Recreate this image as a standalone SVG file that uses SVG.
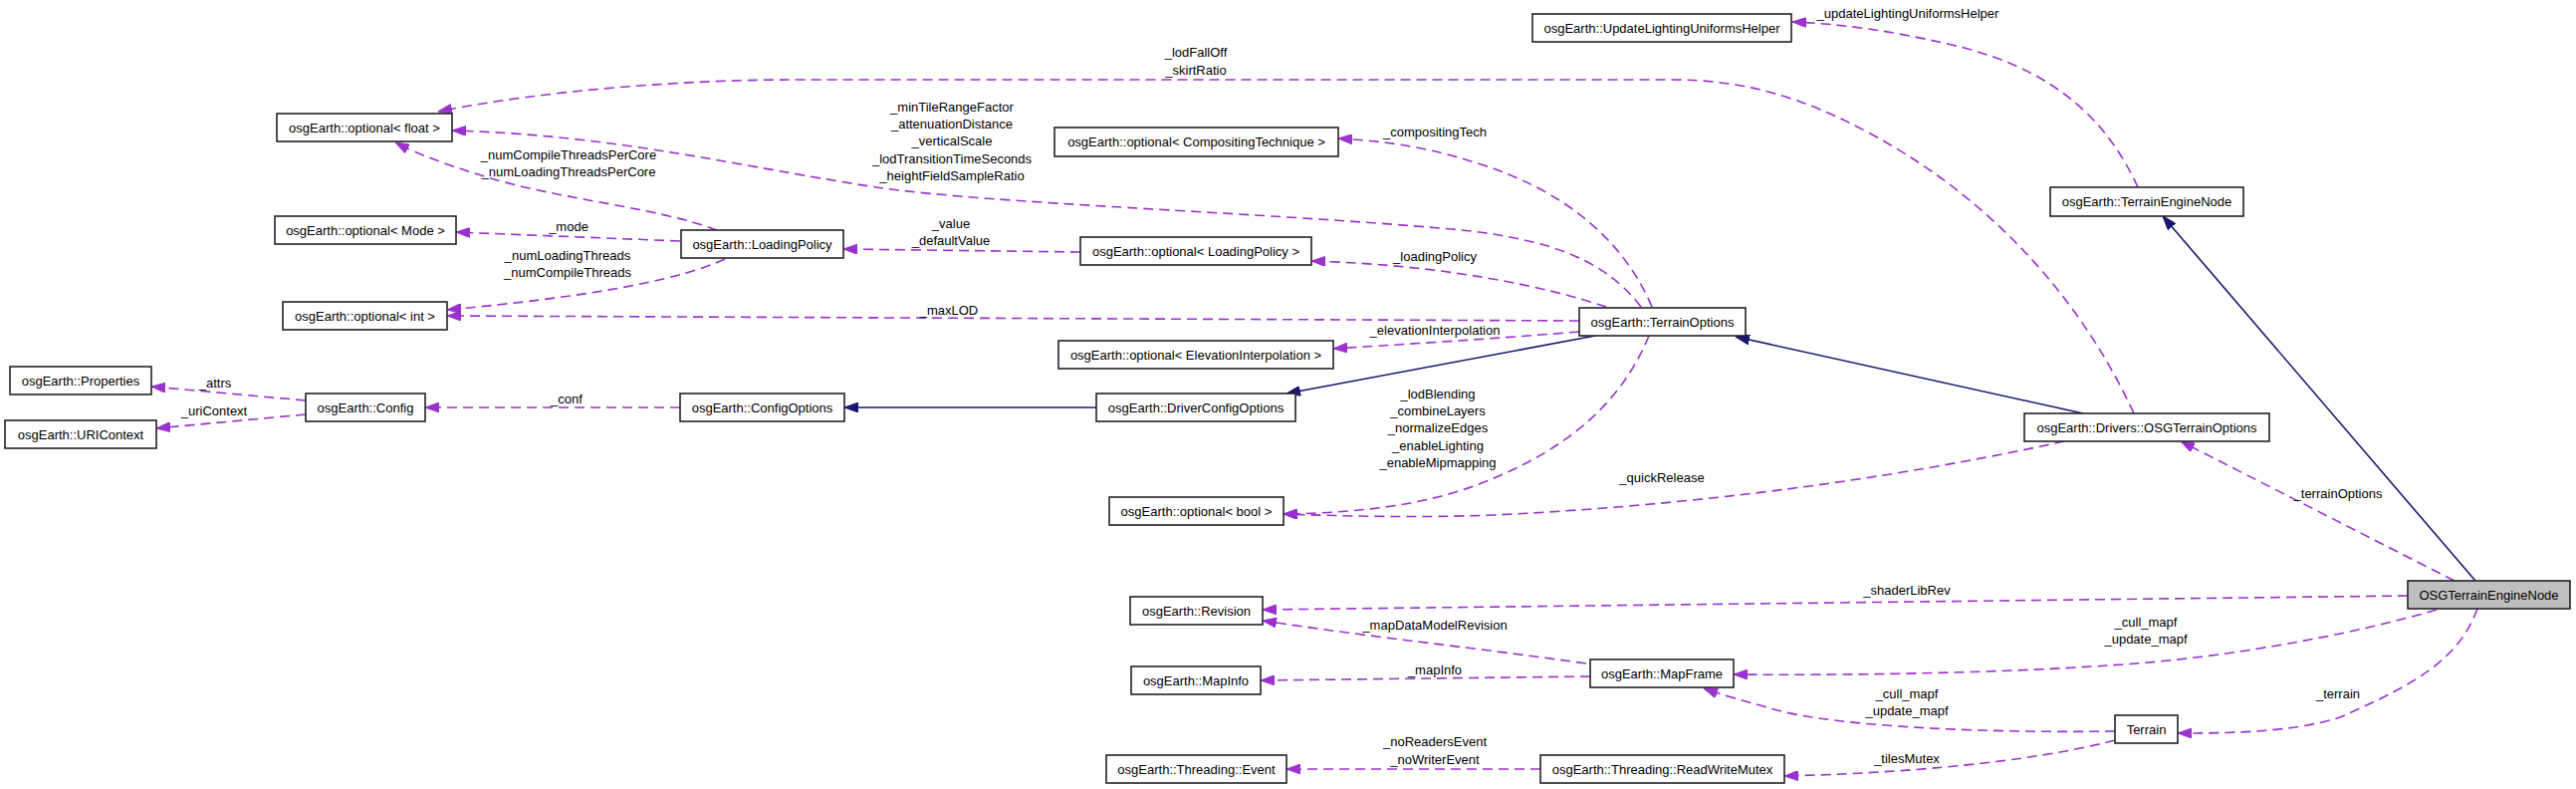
<svg xmlns="http://www.w3.org/2000/svg" width="2587" height="792" viewBox="0 0 2587 792">
<style>
.n rect{fill:#fff;stroke:#222;stroke-width:1.6}
.n.root rect{fill:#bfbfbf}
.n text,.lbl text{font-family:"Liberation Sans",Arial,sans-serif;font-size:13px;fill:#000;text-anchor:middle}
.u{fill:none;stroke:#9a32cd;stroke-width:1.6;stroke-dasharray:10,6;marker-end:url(#ap)}
.i{fill:none;stroke:#191970;stroke-width:1.6;marker-end:url(#an)}
</style>
<defs>
<marker id="ap" viewBox="0 0 14 10" refX="14" refY="5" markerWidth="14" markerHeight="10" markerUnits="userSpaceOnUse" orient="auto"><path d="M0,0 L14,5 L0,10 z" fill="#9a32cd" stroke="#9a32cd"/></marker>
<marker id="an" viewBox="0 0 14 10" refX="14" refY="5" markerWidth="14" markerHeight="10" markerUnits="userSpaceOnUse" orient="auto"><path d="M0,0 L14,5 L0,10 z" fill="#191970" stroke="#191970"/></marker>
</defs>
<rect width="2587" height="792" fill="#fff"/>
<g id="connectors">
<path class="u" d="M2147,188 C2115,118 2060,68 1960,45 C1900,31 1850,24 1800,22"/>
<path class="u" d="M2143,415 C2090,300 2000,200 1880,135 C1810,97 1750,80 1680,80 L800,80 C690,80 550,90 440,112"/>
<path class="u" d="M1648,308 C1615,265 1565,240 1458,230 C1250,212 1000,205 880,188 C730,165 620,136 454,131"/>
<path class="u" d="M1659,308 C1630,240 1570,190 1481,163 C1440,150 1400,142 1344,139"/>
<path class="u" d="M1613,308 C1550,287 1450,266 1317,262"/>
<path class="u" d="M1586,322 L449,317"/>
<path class="u" d="M1586,333 C1500,340 1420,345 1339,350"/>
<path class="u" d="M1656,337 C1630,400 1580,450 1483,487 C1420,510 1350,515 1289,516"/>
<path class="u" d="M2073,443 C1950,470 1750,505 1500,517 C1420,520 1350,518 1289,516"/>
<path class="u" d="M720,231 C660,208 560,200 490,178 C450,166 420,155 397,143"/>
<path class="u" d="M683,242 L458,233"/>
<path class="u" d="M728,260 C680,282 590,298 449,311"/>
<path class="u" d="M1085,253 L847,250"/>
<path class="u" d="M683,409 L427,409"/>
<path class="u" d="M307,402 L152,388"/>
<path class="u" d="M307,416 L157,430"/>
<path class="u" d="M2418,598 L1268,612"/>
<path class="u" d="M2465,583 L2190,443"/>
<path class="u" d="M2447,612 C2380,632 2250,660 2117,668 C2000,676 1850,678 1741,677"/>
<path class="u" d="M2488,611 C2470,660 2430,685 2350,720 C2300,736 2230,736 2187,736"/>
<path class="u" d="M1593,666 C1480,650 1380,640 1268,623"/>
<path class="u" d="M1597,679 L1266,683"/>
<path class="u" d="M2124,734 C2000,736 1850,730 1785,713 C1750,703 1730,698 1711,691"/>
<path class="u" d="M2124,743 C2060,760 1950,775 1792,779"/>
<path class="u" d="M1547,772 L1292,772"/>
<path class="i" d="M2486,583 L2172,217"/>
<path class="i" d="M2092,415 L1743,338"/>
<path class="i" d="M1602,337 L1292,395"/>
<path class="i" d="M1101,409 L848,409"/>
<g class="lbl">
<text x="1916" y="18">_updateLightingUniformsHelper</text>
<text x="1201" y="57">_lodFallOff</text>
<text x="1201" y="75">_skirtRatio</text>
<text x="956" y="112">_minTileRangeFactor</text>
<text x="956" y="129">_attenuationDistance</text>
<text x="956" y="146">_verticalScale</text>
<text x="956" y="164">_lodTransitionTimeSeconds</text>
<text x="956" y="181">_heightFieldSampleRatio</text>
<text x="1441" y="137">_compositingTech</text>
<text x="571" y="160">_numCompileThreadsPerCore</text>
<text x="571" y="177">_numLoadingThreadsPerCore</text>
<text x="571" y="232">_mode</text>
<text x="955" y="229">_value</text>
<text x="955" y="246">_defaultValue</text>
<text x="1441" y="262">_loadingPolicy</text>
<text x="570" y="261">_numLoadingThreads</text>
<text x="570" y="278">_numCompileThreads</text>
<text x="953" y="316">_maxLOD</text>
<text x="1441" y="336">_elevationInterpolation</text>
<text x="216" y="389">_attrs</text>
<text x="569" y="405">_conf</text>
<text x="215" y="417">_uriContext</text>
<text x="1444" y="400">_lodBlending</text>
<text x="1444" y="417">_combineLayers</text>
<text x="1444" y="434">_normalizeEdges</text>
<text x="1444" y="452">_enableLighting</text>
<text x="1444" y="469">_enableMipmapping</text>
<text x="1669" y="484">_quickRelease</text>
<text x="2348" y="500">_terrainOptions</text>
<text x="1915" y="597">_shaderLibRev</text>
<text x="2155" y="629">_cull_mapf</text>
<text x="2155" y="646">_update_mapf</text>
<text x="1441" y="632">_mapDataModelRevision</text>
<text x="1441" y="677">_mapInfo</text>
<text x="2348" y="701">_terrain</text>
<text x="1915" y="701">_cull_mapf</text>
<text x="1915" y="718">_update_mapf</text>
<text x="1441" y="749">_noReadersEvent</text>
<text x="1441" y="767">_noWriterEvent</text>
<text x="1915" y="766">_tilesMutex</text>
</g>
</g>
<g id="n1" class="n"><rect x="1539" y="14" width="260" height="28"/><text x="1669" y="32.5">osgEarth::UpdateLightingUniformsHelper</text></g>
<g id="n2" class="n"><rect x="278" y="114" width="176" height="28"/><text x="366" y="132.5">osgEarth::optional&lt; float &gt;</text></g>
<g id="n3" class="n"><rect x="1059" y="128" width="285" height="29"/><text x="1201.5" y="147">osgEarth::optional&lt; CompositingTechnique &gt;</text></g>
<g id="n4" class="n"><rect x="2059" y="188" width="194" height="29"/><text x="2156" y="207">osgEarth::TerrainEngineNode</text></g>
<g id="n5" class="n"><rect x="276" y="217" width="182" height="28"/><text x="367" y="235.5">osgEarth::optional&lt; Mode &gt;</text></g>
<g id="n6" class="n"><rect x="684" y="231" width="163" height="28"/><text x="765.5" y="249.5">osgEarth::LoadingPolicy</text></g>
<g id="n7" class="n"><rect x="1085" y="238" width="232" height="28"/><text x="1201" y="256.5">osgEarth::optional&lt; LoadingPolicy &gt;</text></g>
<g id="n8" class="n"><rect x="284" y="303" width="165" height="28"/><text x="366.5" y="321.5">osgEarth::optional&lt; int &gt;</text></g>
<g id="n9" class="n"><rect x="1586" y="309" width="167" height="28"/><text x="1669.5" y="327.5">osgEarth::TerrainOptions</text></g>
<g id="n10" class="n"><rect x="1063" y="342" width="276" height="28"/><text x="1201" y="360.5">osgEarth::optional&lt; ElevationInterpolation &gt;</text></g>
<g id="n11" class="n"><rect x="10" y="368" width="142" height="28"/><text x="81" y="386.5">osgEarth::Properties</text></g>
<g id="n12" class="n"><rect x="307" y="395" width="120" height="28"/><text x="367" y="413.5">osgEarth::Config</text></g>
<g id="n13" class="n"><rect x="683" y="395" width="165" height="28"/><text x="765.5" y="413.5">osgEarth::ConfigOptions</text></g>
<g id="n14" class="n"><rect x="1101" y="395" width="200" height="28"/><text x="1201" y="413.5">osgEarth::DriverConfigOptions</text></g>
<g id="n15" class="n"><rect x="5" y="422" width="152" height="28"/><text x="81" y="440.5">osgEarth::URIContext</text></g>
<g id="n16" class="n"><rect x="2033" y="415" width="246" height="28"/><text x="2156" y="433.5">osgEarth::Drivers::OSGTerrainOptions</text></g>
<g id="n17" class="n"><rect x="1114" y="499" width="175" height="28"/><text x="1201.5" y="517.5">osgEarth::optional&lt; bool &gt;</text></g>
<g id="n18" class="n root"><rect x="2418" y="583" width="163" height="28"/><text x="2499.5" y="601.5">OSGTerrainEngineNode</text></g>
<g id="n19" class="n"><rect x="1135" y="599" width="133" height="28"/><text x="1201.5" y="617.5">osgEarth::Revision</text></g>
<g id="n20" class="n"><rect x="1136" y="669" width="130" height="28"/><text x="1201" y="687.5">osgEarth::MapInfo</text></g>
<g id="n21" class="n"><rect x="1597" y="662" width="144" height="28"/><text x="1669" y="680.5">osgEarth::MapFrame</text></g>
<g id="n22" class="n"><rect x="2124" y="718" width="63" height="28"/><text x="2155.5" y="736.5">Terrain</text></g>
<g id="n23" class="n"><rect x="1111" y="758" width="181" height="28"/><text x="1201.5" y="776.5">osgEarth::Threading::Event</text></g>
<g id="n24" class="n"><rect x="1547" y="758" width="245" height="28"/><text x="1669.5" y="776.5">osgEarth::Threading::ReadWriteMutex</text></g>
</svg>
